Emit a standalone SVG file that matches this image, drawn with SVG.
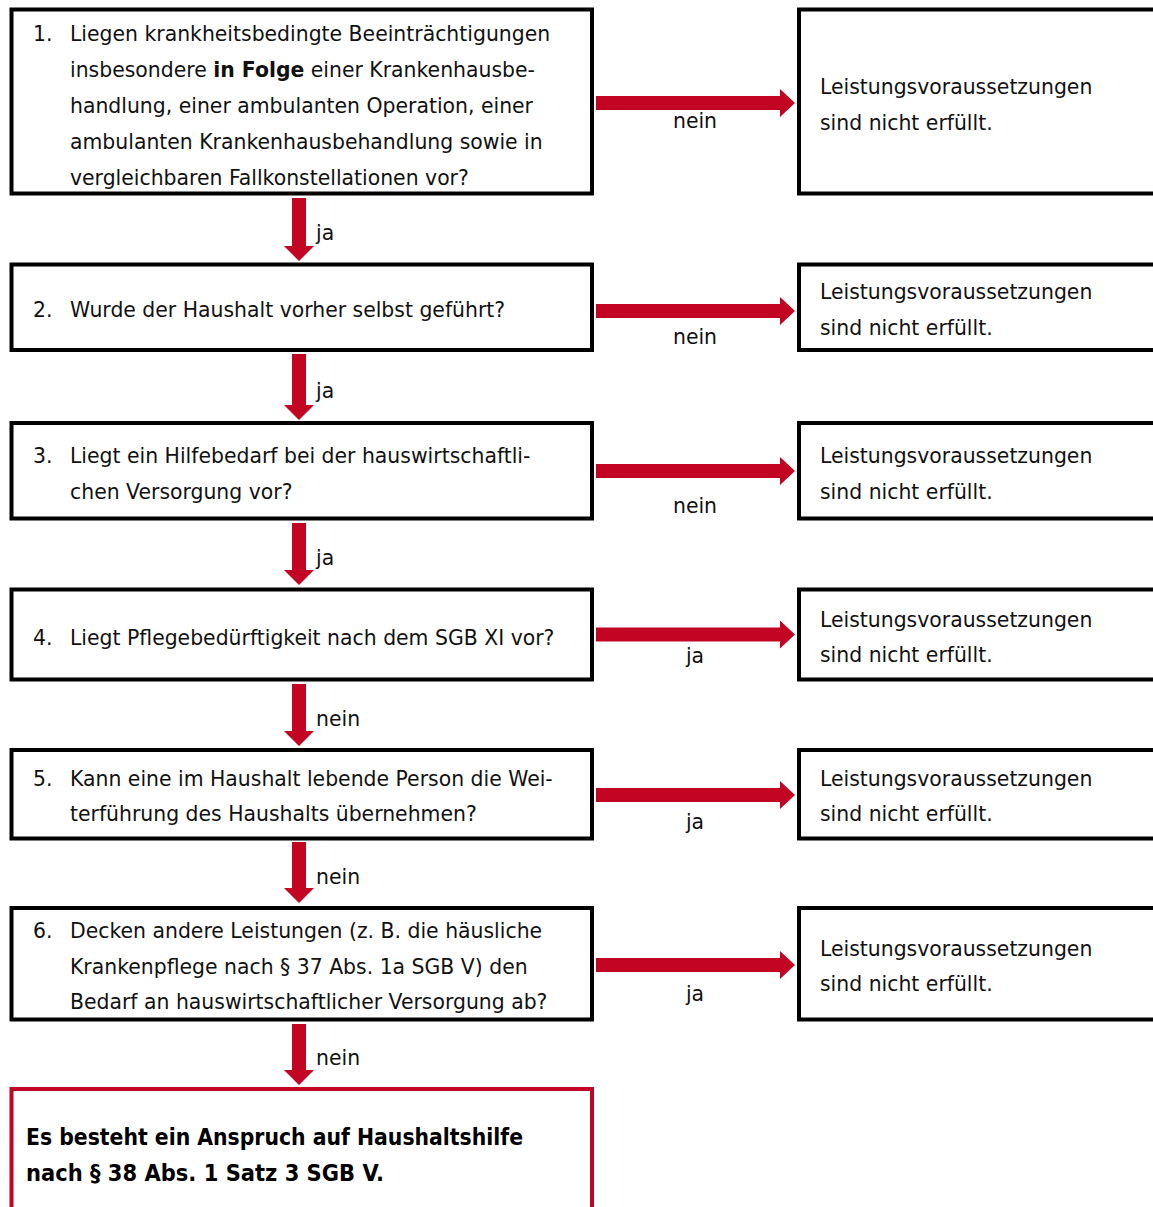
<svg xmlns="http://www.w3.org/2000/svg" width="1153" height="1207" viewBox="0 0 1153 1207">
<style>
  .box { fill: #ffffff; stroke: #000000; stroke-width: 4; }
  .final { fill: #ffffff; stroke: #c10523; stroke-width: 4; }
  .t { font-family: "DejaVu Sans", "Liberation Sans", sans-serif; font-size: 20.4px; fill: #111111; }
  .b { font-weight: bold; }
  .fb { font-family: "DejaVu Sans", "Liberation Sans", sans-serif; font-size: 22.5px; font-weight: bold; fill: #000000; }
  .arrow { fill: #c10523; stroke: none; }
  .lbl { font-family: "DejaVu Sans", "Liberation Sans", sans-serif; font-size: 20.4px; fill: #111111; }
  .mid { text-anchor: middle; }
</style>
<rect width="1153" height="1207" fill="#ffffff"/>

<g id="q1">
  <rect class="box" x="11.5" y="9.5" width="580.5" height="184"/>
  <text class="t" x="33" y="40.5">1.</text>
  <text class="t" x="70" y="40.5">Liegen krankheitsbedingte Beeinträchtigungen</text>
  <text class="t" x="70" y="76.5">insbesondere <tspan class="b">in Folge</tspan> einer Krankenhausbe-</text>
  <text class="t" x="70" y="112.5">handlung, einer ambulanten Operation, einer</text>
  <text class="t" x="70" y="148.5">ambulanten Krankenhausbehandlung sowie in</text>
  <text class="t" x="70" y="184.5">vergleichbaren Fallkonstellationen vor?</text>
</g>
<g id="r1">
  <rect class="box" x="799" y="9.5" width="400" height="184"/>
  <text class="t" x="820" y="94">Leistungsvoraussetzungen</text>
  <text class="t" x="820" y="130">sind nicht erfüllt.</text>
</g>

<g id="q2">
  <rect class="box" x="11.5" y="264.5" width="580.5" height="85.5"/>
  <text class="t" x="33" y="317">2.</text>
  <text class="t" x="70" y="317">Wurde der Haushalt vorher selbst geführt?</text>
</g>
<g id="r2">
  <rect class="box" x="799" y="264.5" width="400" height="85.5"/>
  <text class="t" x="820" y="299">Leistungsvoraussetzungen</text>
  <text class="t" x="820" y="335">sind nicht erfüllt.</text>
</g>

<g id="q3">
  <rect class="box" x="11.5" y="423" width="580.5" height="95.5"/>
  <text class="t" x="33" y="463">3.</text>
  <text class="t" x="70" y="463">Liegt ein Hilfebedarf bei der hauswirtschaftli-</text>
  <text class="t" x="70" y="499">chen Versorgung vor?</text>
</g>
<g id="r3">
  <rect class="box" x="799" y="423" width="400" height="95.5"/>
  <text class="t" x="820" y="463">Leistungsvoraussetzungen</text>
  <text class="t" x="820" y="499">sind nicht erfüllt.</text>
</g>

<g id="q4">
  <rect class="box" x="11.5" y="589.5" width="580.5" height="90"/>
  <text class="t" x="33" y="645">4.</text>
  <text class="t" x="70" y="645">Liegt Pflegebedürftigkeit nach dem SGB XI vor?</text>
</g>
<g id="r4">
  <rect class="box" x="799" y="589.5" width="400" height="90"/>
  <text class="t" x="820" y="627">Leistungsvoraussetzungen</text>
  <text class="t" x="820" y="662">sind nicht erfüllt.</text>
</g>

<g id="q5">
  <rect class="box" x="11.5" y="750" width="580.5" height="88.5"/>
  <text class="t" x="33" y="786">5.</text>
  <text class="t" x="70" y="786">Kann eine im Haushalt lebende Person die Wei-</text>
  <text class="t" x="70" y="821">terführung des Haushalts übernehmen?</text>
</g>
<g id="r5">
  <rect class="box" x="799" y="750" width="400" height="88.5"/>
  <text class="t" x="820" y="786">Leistungsvoraussetzungen</text>
  <text class="t" x="820" y="821">sind nicht erfüllt.</text>
</g>

<g id="q6">
  <rect class="box" x="11.5" y="908" width="580.5" height="111.5"/>
  <text class="t" x="33" y="938">6.</text>
  <text class="t" x="70" y="938">Decken andere Leistungen (z. B. die häusliche</text>
  <text class="t" x="70" y="974">Krankenpflege nach § 37 Abs. 1a SGB V) den</text>
  <text class="t" x="70" y="1009">Bedarf an hauswirtschaftlicher Versorgung ab?</text>
</g>
<g id="r6">
  <rect class="box" x="799" y="908" width="400" height="111.5"/>
  <text class="t" x="820" y="956">Leistungsvoraussetzungen</text>
  <text class="t" x="820" y="991">sind nicht erfüllt.</text>
</g>

<g id="result">
  <rect class="final" x="11.5" y="1089" width="580.5" height="140"/>
  <text class="fb" x="26" y="1145" textLength="497" lengthAdjust="spacingAndGlyphs">Es besteht ein Anspruch auf Haushaltshilfe</text>
  <text class="fb" x="26" y="1181" textLength="358" lengthAdjust="spacingAndGlyphs">nach § 38 Abs. 1 Satz 3 SGB V.</text>
</g>

<g id="connectors">
  <path class="arrow" d="M292,198 H306 V246 H314 L299,261 L284,246 H292 Z"/>
  <path class="arrow" d="M292,354 H306 V405 H314 L299,420 L284,405 H292 Z"/>
  <path class="arrow" d="M292,523 H306 V570 H314 L299,585 L284,570 H292 Z"/>
  <path class="arrow" d="M292,684 H306 V731 H314 L299,746 L284,731 H292 Z"/>
  <path class="arrow" d="M292,842 H306 V888 H314 L299,903 L284,888 H292 Z"/>
  <path class="arrow" d="M292,1024 H306 V1070 H314 L299,1085 L284,1070 H292 Z"/>
  <path class="arrow" d="M596,96 V110 H780 V117 L795,103 L780,89 V96 Z"/>
  <path class="arrow" d="M596,304 V318 H780 V325 L795,311 L780,297 V304 Z"/>
  <path class="arrow" d="M596,464 V478 H780 V485 L795,471 L780,457 V464 Z"/>
  <path class="arrow" d="M596,627.5 V641.5 H780 V648.5 L795,634.5 L780,620.5 V627.5 Z"/>
  <path class="arrow" d="M596,788 V802 H780 V809 L795,795 L780,781 V788 Z"/>
  <path class="arrow" d="M596,958 V972 H780 V979 L795,965 L780,951 V958 Z"/>
  <text class="lbl" x="316" y="240">ja</text>
  <text class="lbl" x="316" y="398">ja</text>
  <text class="lbl" x="316" y="565">ja</text>
  <text class="lbl" x="316" y="726">nein</text>
  <text class="lbl" x="316" y="884">nein</text>
  <text class="lbl" x="316" y="1065">nein</text>
  <text class="lbl mid" x="695" y="128">nein</text>
  <text class="lbl mid" x="695" y="344">nein</text>
  <text class="lbl mid" x="695" y="513">nein</text>
  <text class="lbl mid" x="695" y="663">ja</text>
  <text class="lbl mid" x="695" y="829">ja</text>
  <text class="lbl mid" x="695" y="1001">ja</text>
</g>
</svg>
